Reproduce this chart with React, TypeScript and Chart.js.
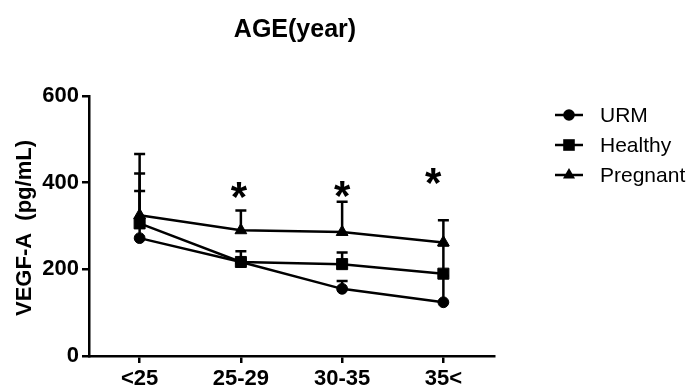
import React, { useEffect, useRef } from "react";
import { Chart, registerables } from "chart.js";

Chart.register(...registerables);

const categories = ["<25", "25-29", "30-35", "35<"];
const seriesNames = ["URM", "Healthy", "Pregnant"];
const urm = [272, 217, 155, 124];
const healthy = [306, 217, 212, 190];
const pregnant = [325, 290, 286, 262];
const urmUpper = [381, 224, 173, 185];
const healthyUpper = [421, 242, 239, 255];
const pregnantUpper = [466, 336, 356, 313];
const asteriskX = [0.98, 2.0, 2.9];
const asteriskY = [384, 387, 417];
const yTicks = [0, 200, 400, 600];

const FONT = "'Liberation Sans', Arial, sans-serif";
const LW = 2.5;

function drawMarker(ctx: CanvasRenderingContext2D, style: string, x: number, y: number) {
  ctx.beginPath();
  if (style === "circle") {
    ctx.arc(x, y, 5.8, 0, Math.PI * 2);
  } else if (style === "rect") {
    ctx.rect(x - 5.8, y - 5.8, 11.6, 11.6);
  } else {
    const r = 7;
    ctx.moveTo(x, y - r);
    ctx.lineTo(x + r * 0.866, y + r * 0.5);
    ctx.lineTo(x - r * 0.866, y + r * 0.5);
    ctx.closePath();
  }
  ctx.fillStyle = "#000";
  ctx.fill();
}

const styles = ["circle", "rect", "triangle"];

const extras = {
  id: "extras",
  afterDatasetsDraw(chart: any) {
    const ctx = chart.ctx as CanvasRenderingContext2D;
    const xs = chart.scales.x;
    const ys = chart.scales.y;
    const vals = [urm, healthy, pregnant];
    const ups = [urmUpper, healthyUpper, pregnantUpper];
    ctx.save();
    ctx.strokeStyle = "#000";
    ctx.lineWidth = LW;
    vals.forEach((arr, i) => {
      arr.forEach((v, j) => {
        const x = xs.getPixelForValue(j);
        const y0 = ys.getPixelForValue(v);
        const y1 = ys.getPixelForValue(ups[i][j]);
        ctx.beginPath();
        ctx.moveTo(x, y0);
        ctx.lineTo(x, y1);
        ctx.moveTo(x - 5.5, y1);
        ctx.lineTo(x + 5.5, y1);
        ctx.stroke();
      });
    });
    ctx.fillStyle = "#000";
    ctx.font = `bold 42px ${FONT}`;
    ctx.textAlign = "center";
    ctx.textBaseline = "alphabetic";
    asteriskX.forEach((ax, k) => {
      const x = xs.getPixelForValue(ax);
      const y = ys.getPixelForValue(asteriskY[k]);
      ctx.fillText("*", x, y + 42 * 0.52);
    });
    ctx.restore();
  },
  afterDraw(chart: any) {
    const ctx = chart.ctx as CanvasRenderingContext2D;
    ctx.save();
    ctx.fillStyle = "#000";
    ctx.font = `bold 25px ${FONT}`;
    ctx.textAlign = "center";
    ctx.textBaseline = "alphabetic";
    ctx.fillText("AGE(year)", 295, 37);
    ctx.save();
    ctx.translate(31, 228);
    ctx.rotate(-Math.PI / 2);
    ctx.font = `bold 22px ${FONT}`;
    ctx.textAlign = "center";
    ctx.textBaseline = "alphabetic";
    ctx.fillText("VEGF-A  (pg/mL)", 0, 0);
    ctx.restore();
    ctx.font = `21px ${FONT}`;
    ctx.textAlign = "left";
    ctx.textBaseline = "middle";
    ctx.strokeStyle = "#000";
    ctx.lineWidth = LW;
    seriesNames.forEach((name, i) => {
      const y = 115 + i * 30;
      ctx.beginPath();
      ctx.moveTo(555, y);
      ctx.lineTo(583, y);
      ctx.stroke();
      drawMarker(ctx, styles[i], 569, y);
      ctx.fillStyle = "#000";
      ctx.fillText(name, 600, y + 1);
    });
    ctx.restore();
  },
};

export default function App() {
  const ref = useRef<HTMLCanvasElement>(null);
  useEffect(() => {
    const mk = (label: string, data: number[], style: string, r: number) => ({
      label,
      data,
      borderColor: "#000",
      backgroundColor: "#000",
      borderWidth: LW,
      pointStyle: style,
      pointRadius: r,
      pointBackgroundColor: "#000",
      pointBorderColor: "#000",
      pointBorderWidth: 1,
      tension: 0,
      fill: false,
    });
    const tickFont = { family: FONT, size: 22, weight: "bold" as const };
    const chart = new Chart(ref.current!, {
      type: "line",
      data: {
        labels: categories,
        datasets: [
          mk(seriesNames[0], urm, "circle", 5.4),
          mk(seriesNames[1], healthy, "rect", 7.8),
          mk(seriesNames[2], pregnant, "triangle", 6.8),
        ],
      },
      options: {
        animation: false,
        responsive: false,
        devicePixelRatio: 1,
        layout: { padding: { left: 0, top: 96, right: 198, bottom: 0 } },
        plugins: { legend: { display: false }, tooltip: { enabled: false }, title: { display: false } },
        scales: {
          x: {
            type: "category",
            offset: true,
            grid: { display: true, drawOnChartArea: false, drawTicks: true, tickLength: 7, color: "#000", lineWidth: LW },
            border: { display: true, color: "#000", width: LW },
            ticks: { color: "#000", font: tickFont, padding: 3, maxRotation: 0, autoSkip: false },
            afterFit: (s: any) => { s.height = 29; },
          },
          y: {
            min: 0,
            max: 600,
            afterBuildTicks: (s: any) => { s.ticks = yTicks.map((v) => ({ value: v })); },
            grid: { display: true, drawOnChartArea: false, drawTicks: true, tickLength: 7, color: "#000", lineWidth: LW },
            border: { display: true, color: "#000", width: LW },
            ticks: { color: "#000", font: tickFont, padding: 3 },
            afterFit: (s: any) => { s.width = 89; },
          },
        },
      },
      plugins: [extras],
    });
    return () => chart.destroy();
  }, []);
  return (
    <div style={{ position: "absolute", left: 0, top: 0, width: 692, height: 385, background: "#fff" }}>
      <canvas ref={ref} width={692} height={385} style={{ display: "block", width: 692, height: 385 }} />
    </div>
  );
}
